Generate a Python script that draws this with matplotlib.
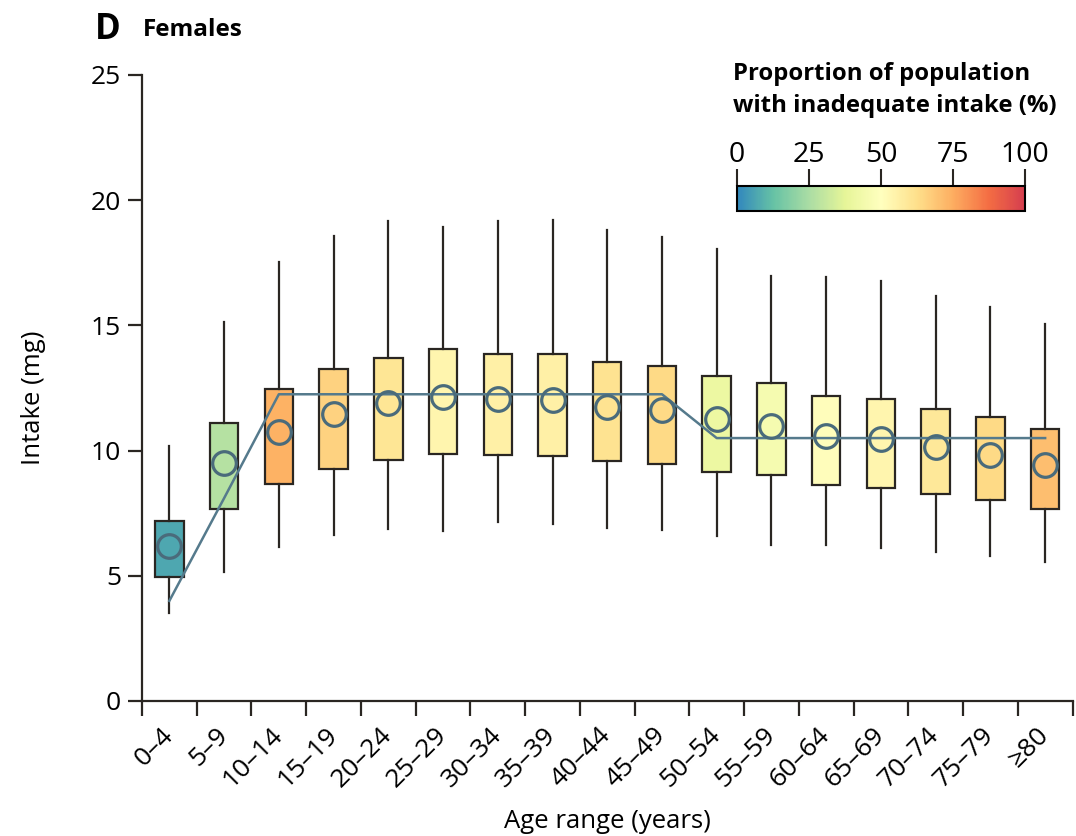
import numpy as np
import matplotlib
matplotlib.use('Agg')
import matplotlib.pyplot as plt
import matplotlib.transforms as mtransforms
from matplotlib.colors import LinearSegmentedColormap, Normalize
from matplotlib.cm import ScalarMappable

plt.rcParams['font.family'] = ['Open Sans', 'DejaVu Sans']

# data
ages = ['0–4', '5–9', '10–14', '15–19', '20–24', '25–29', '30–34', '35–39', '40–44',
        '45–49', '50–54', '55–59', '60–64', '65–69', '70–74', '75–79', '≥80']
whis_lo = [3.53, 5.16, 6.16, 6.62, 6.88, 6.80, 7.13, 7.05, 6.90, 6.83, 6.59, 6.23, 6.22, 6.11, 5.96, 5.79, 5.54]
q1 = [4.96, 7.65, 8.67, 9.28, 9.61, 9.88, 9.82, 9.78, 9.58, 9.48, 9.16, 9.01, 8.63, 8.49, 8.25, 8.01, 7.68]
mid = [6.20, 9.49, 10.76, 11.45, 11.89, 12.15, 12.06, 12.02, 11.75, 11.62, 11.26, 10.98, 10.58, 10.45, 10.14, 9.84, 9.42]
q3 = [7.20, 11.09, 12.45, 13.26, 13.71, 14.04, 13.87, 13.85, 13.55, 13.38, 12.98, 12.69, 12.19, 12.05, 11.66, 11.33, 10.85]
whis_hi = [10.2, 15.15, 17.52, 18.58, 19.18, 18.94, 19.15, 19.21, 18.81, 18.52, 18.05, 16.99, 16.93, 16.77, 16.17, 15.73, 15.06]
# requirement line
requirement = [4.0, 8.1, 12.25, 12.25, 12.25, 12.25, 12.25, 12.25, 12.25, 12.25,
               10.5, 10.5, 10.5, 10.5, 10.5, 10.5, 10.5]
# proportion with inadequate intake (%)
inadequate = [7, 27, 74, 66, 60, 54, 56, 56, 61, 64, 41, 45, 51, 54, 59, 64, 71]

cmap = LinearSegmentedColormap.from_list('spec', ['#3288bd', '#66c2a5', '#abdda4', '#e6f598', '#ffffbf',
                                                  '#fee08b', '#fdae61', '#f46d43', '#d53e4f'])
norm = Normalize(0, 100)

fig = plt.figure(figsize=(10.76, 8.36), dpi=100)
ax = fig.add_axes([142/1076, 1-701/836, (1072.5-142)/1076, (701-75)/836])

pos = np.arange(len(ages))
stats = []
for i in range(len(ages)):
    stats.append({'whislo': whis_lo[i], 'q1': q1[i], 'med': mid[i], 'q3': q3[i], 'whishi': whis_hi[i]})

bp = ax.bxp(stats, positions=pos, widths=0.52, showcaps=False, showfliers=False, patch_artist=True,
            boxprops=dict(linewidth=1.6, edgecolor='#2a2622'),
            whiskerprops=dict(linewidth=1.6, color='#2a2622'),
            medianprops=dict(linewidth=0))
for patch, p in zip(bp['boxes'], inadequate):
    patch.set_facecolor(cmap(norm(p)))

ax.plot(pos, requirement, color='#557a8c', linewidth=1.8, zorder=4)
ax.plot(pos, mid, linestyle='none', marker='o', markersize=17, markerfacecolor='none',
        markeredgecolor='#4a6b7b', markeredgewidth=2.3, zorder=5)

ax.set_xlim(-0.5, 16.5)
ax.set_ylim(0, 25)
ax.set_yticks([0, 5, 10, 15, 20, 25])
ax.set_xticks(pos)
ax.set_xticklabels(ages, rotation=45, ha='right', va='center', rotation_mode='anchor')
offset = mtransforms.ScaledTranslation(10/100, 0, fig.dpi_scale_trans)
for lab in ax.get_xticklabels():
    lab.set_transform(lab.get_transform() + offset)
ax.set_xticks(np.arange(-0.5, 17, 1), minor=True)
ax.tick_params(axis='x', which='major', length=0, pad=22, labelsize=19)
ax.tick_params(axis='x', which='minor', length=11, width=1.6, color='#2a2622')
ax.tick_params(axis='y', length=10, width=1.6, color='#2a2622', labelsize=19, pad=5)
for s in ['top', 'right']:
    ax.spines[s].set_visible(False)
for s in ['left', 'bottom']:
    ax.spines[s].set_linewidth(1.6)
    ax.spines[s].set_color('#2a2622')
    ax.spines[s].set_capstyle('projecting')

fig.text(33/1076, 1-398/836, 'Intake (mg)', rotation=90, ha='center', va='center', fontsize=18.5)
fig.text(607/1076, 1-822/836, 'Age range (years)', ha='center', va='center', fontsize=18.5)
fig.text(95/1076, 1-30/836, 'D', fontsize=25, fontweight='bold', ha='left', va='center')
fig.text(143/1076, 1-30/836, 'Females', fontsize=17.5, fontweight='bold', ha='left', va='center')

# colour scale
cax = fig.add_axes([737/1076, 1-211/836, 288/1076, 25/836])
cb = fig.colorbar(ScalarMappable(norm=norm, cmap=cmap), cax=cax, orientation='horizontal')
cb.set_ticks([0, 25, 50, 75, 100])
cax.xaxis.set_ticks_position('top')
cax.tick_params(length=12, width=1.5, labelsize=20.5, pad=0, color='#2a2622')
cb.outline.set_linewidth(1.5)
fig.text(733/1076, 1-62/836, 'Proportion of population\nwith inadequate intake (%)', fontsize=17.2,
         fontweight='bold', ha='left', va='top', linespacing=1.45)

fig.savefig('out.png', dpi=100)
